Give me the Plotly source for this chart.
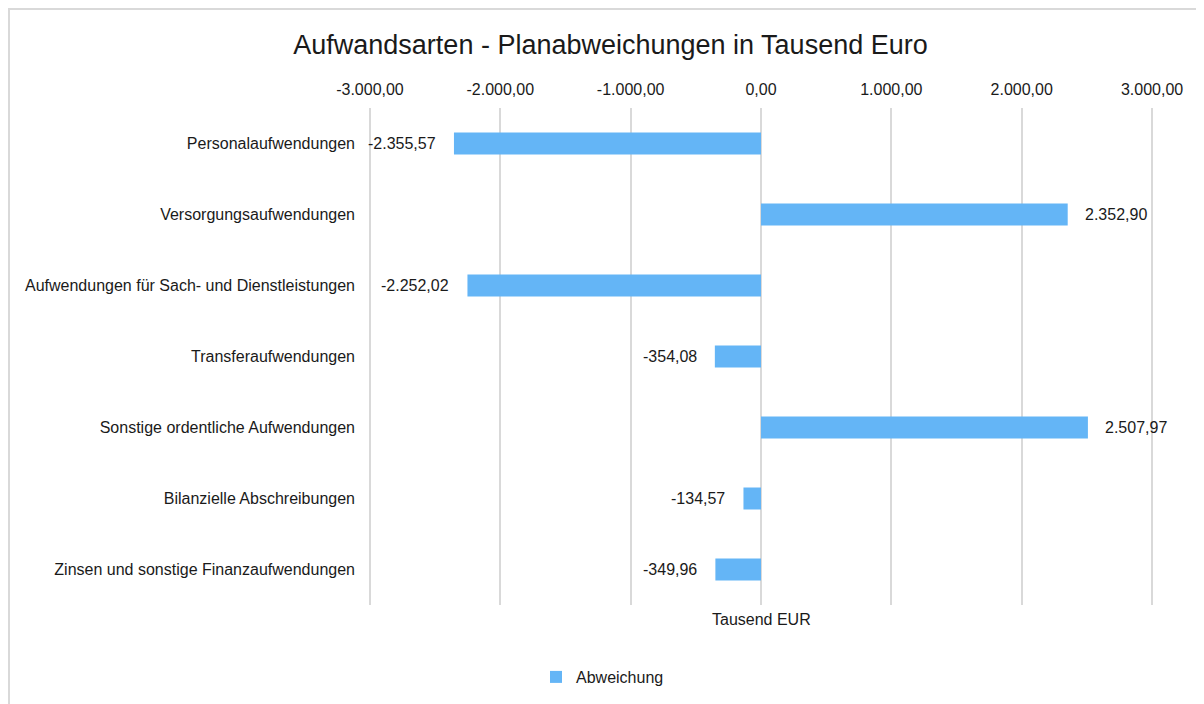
import plotly.graph_objects as go

categories = [
    "Personalaufwendungen",
    "Versorgungsaufwendungen",
    "Aufwendungen für Sach- und Dienstleistungen",
    "Transferaufwendungen",
    "Sonstige ordentliche Aufwendungen",
    "Bilanzielle Abschreibungen",
    "Zinsen und sonstige Finanzaufwendungen",
]
abweichung = [-2355.57, 2352.90, -2252.02, -354.08, 2507.97, -134.57, -349.96]
tick_values = [-3000, -2000, -1000, 0, 1000, 2000, 3000]


def de_fmt(v):
    s = f"{v:,.2f}"
    return s.replace(",", "X").replace(".", ",").replace("X", ".")


tick_labels = [de_fmt(v) for v in tick_values]
bar_color = "#64B5F6"
text_color = "#1a1a1a"
font_family = "Liberation Sans, Arial, sans-serif"

fig = go.Figure()
fig.add_trace(go.Bar(
    x=abweichung,
    y=categories,
    orientation="h",
    name="Abweichung",
    marker=dict(color=bar_color, line=dict(width=0)),
    hoverinfo="x+y",
))

annotations = []
for cat, v in zip(categories, abweichung):
    annotations.append(dict(
        x=v, y=cat, xref="x", yref="y",
        text=de_fmt(v), showarrow=False,
        xanchor="left" if v >= 0 else "right",
        xshift=15 if v >= 0 else -16,
        font=dict(size=16, color=text_color, family=font_family),
    ))

L, R, T, B = 360, 58, 100, 107
W, H = 1204, 704
pw, ph = W - L - R, H - T - B

annotations.append(dict(
    x=0, y=-14 / ph, xref="x", yref="paper",
    text="Tausend EUR", showarrow=False,
    xanchor="center", yanchor="middle",
    font=dict(size=16, color=text_color, family=font_family),
))

fig.update_layout(
    width=W, height=H,
    margin=dict(l=L, r=R, t=T, b=B),
    paper_bgcolor="white",
    plot_bgcolor="white",
    font=dict(family=font_family, size=16, color=text_color),
    title=dict(
        text="Aufwandsarten - Planabweichungen in Tausend Euro",
        x=602.5 / W, xref="container", xanchor="center",
        y=1 - 37 / H, yref="container", yanchor="middle",
        font=dict(size=27, color=text_color, family=font_family),
    ),
    bargap=0.69,
    showlegend=True,
    legend=dict(
        orientation="h",
        x=(528 - L) / pw, xanchor="left",
        y=(H - B - 669) / ph, yanchor="middle",
        font=dict(size=16, color=text_color, family=font_family),
        itemwidth=30,
    ),
    annotations=annotations,
    xaxis=dict(
        side="top",
        range=[-3015, 3015],
        tickvals=tick_values,
        ticktext=tick_labels,
        showgrid=True,
        gridcolor="#d9d9d9",
        gridwidth=2,
        zeroline=False,
        showline=False,
        ticks="",
        ticklabelstandoff=9,
        tickfont=dict(size=16, color=text_color),
    ),
    yaxis=dict(
        autorange="reversed",
        showgrid=False,
        zeroline=False,
        showline=False,
        ticks="",
        ticklabelstandoff=12,
        tickfont=dict(size=16, color=text_color),
    ),
    shapes=[dict(
        type="rect", xref="paper", yref="paper",
        x0=(1 - L) / pw, x1=(W - 1 - L) / pw,
        y0=(H - B - (H - 1)) / ph, y1=(H - B - 1) / ph,
        line=dict(color="#d9d9d9", width=2),
        fillcolor="rgba(0,0,0,0)", layer="below",
    )],
)

fig.write_html("out.html")
